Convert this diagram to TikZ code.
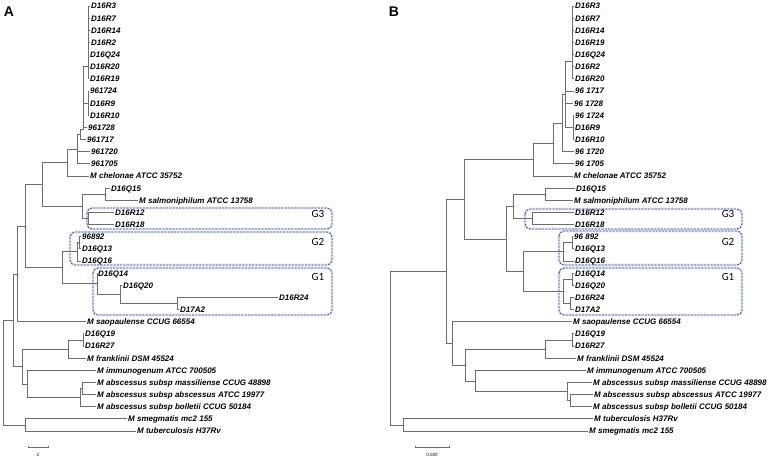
\documentclass[tikz,border=0pt]{standalone}
\usepackage{fontspec}
\setmainfont{Liberation Sans}
\newfontfamily\glab{Carlito}
\definecolor{treegray}{RGB}{110,110,110}
\definecolor{boxblue}{RGB}{70,80,130}
\definecolor{glowblue}{RGB}{222,230,244}
\begin{document}
\begin{tikzpicture}[x=1pt,y=-12.143pt,
  br/.style={draw=treegray, line width=0.8pt, line cap=rect},
  leaf/.style={anchor=west, inner sep=1pt, font=\bfseries\itshape\fontsize{8}{9}\selectfont, text height=5.8pt, text depth=0pt},
  gbox/.style={draw=boxblue, dash pattern=on 2pt off 1.3pt, line width=0.8pt, rounded corners=5pt},
  glow/.style={draw=glowblue, line width=2.6pt, rounded corners=5pt},
  glabel/.style={font=\glab\fontsize{11}{12}\selectfont, inner sep=0pt},
  panel/.style={font=\bfseries\fontsize{14}{16}\selectfont, inner sep=0pt},
  sbar/.style={font=\fontsize{4.5}{5}\selectfont, inner sep=0pt}]
\useasboundingbox (0,0.5059) rectangle (773,38.387);

% ---------- boxes (A) ----------
\draw[glow] (87,17.635) rectangle (332,19.36);
\draw[glow] (70,19.61) rectangle (332,22.33);
\draw[glow] (93,22.58) rectangle (332,26.45);
\draw[gbox] (87,17.635) rectangle (332,19.36);
\draw[gbox] (70,19.61) rectangle (332,22.33);
\draw[gbox] (93,22.58) rectangle (332,26.45);
% ---------- boxes (B) ----------
\draw[glow] (525,17.72) rectangle (742,19.36);
\draw[glow] (559,19.53) rectangle (742,22.33);
\draw[glow] (559,22.58) rectangle (742,26.45);
\draw[gbox] (525,17.72) rectangle (742,19.36);
\draw[gbox] (559,19.53) rectangle (742,22.33);
\draw[gbox] (559,22.58) rectangle (742,26.45);

\node[glabel] (gA3) at (318,18.13) {G3};
\node[glabel] (gA2) at (318,20.44) {G2};
\node[glabel] (gA1) at (318,23.32) {G1};
\node[glabel] (gB3) at (728,18.13) {G3};
\node[glabel] (gB2) at (728,20.44) {G2};
\node[glabel] (gB1) at (728,23.32) {G1};

\node[panel] (pA) at (9,1.49) {A};
\node[panel] (pB) at (394,1.49) {B};

% ---------- Tree A leaves ----------
\node[leaf] (lA1) at (90,1) {D16R3};
\node[leaf] (lA2) at (90,2) {D16R7};
\node[leaf] (lA3) at (90,3) {D16R14};
\node[leaf] (lA4) at (90,4) {D16R2};
\node[leaf] (lA5) at (89,5) {D16Q24};
\node[leaf] (lA6) at (89,6) {D16R20};
\node[leaf] (lA7) at (89,7) {D16R19};
\node[leaf] (lA8) at (89,8) {961724};
\node[leaf] (lA9) at (89,9) {D16R9};
\node[leaf] (lA10) at (89,10) {D16R10};
\node[leaf] (lA11) at (87,11) {961728};
\node[leaf] (lA12) at (86,12) {961717};
\node[leaf] (lA13) at (90,13) {961720};
\node[leaf] (lA14) at (90,14) {961705};
\node[leaf] (lA15) at (89,15) {M chelonae ATCC 35752};
\node[leaf] (lA16) at (110,16) {D16Q15};
\node[leaf] (lA17) at (138,17) {M salmoniphilum ATCC 13758};
\node[leaf] (lA18) at (114,18) {D16R12};
\node[leaf] (lA19) at (114,19) {D16R18};
\node[leaf] (lA20) at (81,20) {96892};
\node[leaf] (lA21) at (81,21) {D16Q13};
\node[leaf] (lA22) at (81,22) {D16Q16};
\node[leaf] (lA23) at (97,23) {D16Q14};
\node[leaf] (lA24) at (122,24) {D16Q20};
\node[leaf] (lA25) at (278,25) {D16R24};
\node[leaf] (lA26) at (179,26) {D17A2};
\node[leaf] (lA27) at (86,27) {M saopaulense CCUG 66554};
\node[leaf] (lA28) at (84,28) {D16Q19};
\node[leaf] (lA29) at (84,29) {D16R27};
\node[leaf] (lA30) at (86,30) {M franklinii DSM 45524};
\node[leaf] (lA31) at (96,31) {M immunogenum ATCC 700505};
\node[leaf] (lA32) at (96,32) {M abscessus subsp massiliense CCUG 48898};
\node[leaf] (lA33) at (96,33) {M abscessus subsp abscessus ATCC 19977};
\node[leaf] (lA34) at (96,34) {M abscessus subsp bolletii CCUG 50184};
\node[leaf] (lA35) at (127,35) {M smegmatis mc2 155};
\node[leaf] (lA36) at (136,36) {M tuberculosis H37Rv};

% ---------- Tree A internal nodes ----------
\coordinate (nA1) at (88,6);
\coordinate (nA3) at (88,9);
\coordinate (nA2) at (83,11.2);
\coordinate (nA5) at (80,11.6);
\coordinate (nA6) at (77,12.8);
\coordinate (nA7) at (67,13.9);
\coordinate (nA10) at (105,16.5);
\coordinate (nA11) at (88,18.5);
\coordinate (nA9) at (82,17.5);
\coordinate (nA8) at (42,15.7);
\coordinate (nA14a) at (79,20.5);
\coordinate (nA14) at (77,21.25);
\coordinate (nA17) at (177,25.5);
\coordinate (nA16) at (120,24.75);
\coordinate (nA15) at (97,23.875);
\coordinate (nA13) at (62,22.56);
\coordinate (nA12) at (25,19.13);
\coordinate (nA18) at (17,23.07);
\coordinate (nA21a) at (83,28.5);
\coordinate (nA21) at (68,29.25);
\coordinate (nA23a) at (82,32.5);
\coordinate (nA23) at (80,33.25);
\coordinate (nA22) at (27,32.125);
\coordinate (nA20) at (22,30.69);
\coordinate (nA19) at (13,26.88);
\coordinate (nA24) at (25,35.5);
\coordinate (nA0) at (3,31.19);

\foreach \p/\c in {nA1/lA1.west,nA1/lA2.west,nA1/lA3.west,nA1/lA4.west,nA1/lA5.west,nA1/lA6.west,nA1/lA7.west,
  nA3/lA8.west,nA3/lA9.west,nA3/lA10.west,
  nA2/nA1,nA2/nA3,nA2/lA11.west,
  nA5/nA2,nA5/lA12.west,
  nA6/nA5,nA6/lA13.west,nA6/lA14.west,
  nA7/nA6,nA7/lA15.west,
  nA10/lA16.west,nA10/lA17.west,
  nA11/lA18.west,nA11/lA19.west,
  nA9/nA10,nA9/nA11,
  nA8/nA7,nA8/nA9,
  nA14a/lA20.west,nA14a/lA21.west,
  nA14/nA14a,nA14/lA22.west,
  nA17/lA25.west,nA17/lA26.west,
  nA16/lA24.west,nA16/nA17,
  nA15/lA23.west,nA15/nA16,
  nA13/nA14,nA13/nA15,
  nA12/nA8,nA12/nA13,
  nA18/nA12,nA18/lA27.west,
  nA21a/lA28.west,nA21a/lA29.west,
  nA21/nA21a,nA21/lA30.west,
  nA23a/lA32.west,nA23a/lA33.west,
  nA23/nA23a,nA23/lA34.west,
  nA22/lA31.west,nA22/nA23,
  nA20/nA21,nA20/nA22,
  nA19/nA18,nA19/nA20,
  nA24/lA35.west,nA24/lA36.west,
  nA0/nA19,nA0/nA24}
  \draw[br] (\p) |- (\c);

% ---------- Tree B leaves ----------
\node[leaf] (lB1) at (574,1) {D16R3};
\node[leaf] (lB2) at (574,2) {D16R7};
\node[leaf] (lB3) at (574,3) {D16R14};
\node[leaf] (lB4) at (574,4) {D16R19};
\node[leaf] (lB5) at (574,5) {D16Q24};
\node[leaf] (lB6) at (574,6) {D16R2};
\node[leaf] (lB7) at (574,7) {D16R20};
\node[leaf] (lB8) at (574,8) {96 1717};
\node[leaf] (lB9) at (573,9) {96 1728};
\node[leaf] (lB10) at (574,10) {96 1724};
\node[leaf] (lB11) at (574,11) {D16R9};
\node[leaf] (lB12) at (574,12) {D16R10};
\node[leaf] (lB13) at (574,13) {96 1720};
\node[leaf] (lB14) at (574,14) {96 1705};
\node[leaf] (lB15) at (573,15) {M chelonae ATCC 35752};
\node[leaf] (lB16) at (575,16) {D16Q15};
\node[leaf] (lB17) at (573,17) {M salmoniphilum ATCC 13758};
\node[leaf] (lB18) at (574,18) {D16R12};
\node[leaf] (lB19) at (574,19) {D16R18};
\node[leaf] (lB20) at (573,20) {96 892};
\node[leaf] (lB21) at (574,21) {D16Q13};
\node[leaf] (lB22) at (574,22) {D16Q16};
\node[leaf] (lB23) at (574,23) {D16Q14};
\node[leaf] (lB24) at (574,24) {D16Q20};
\node[leaf] (lB25) at (574,25) {D16R24};
\node[leaf] (lB26) at (574,26) {D17A2};
\node[leaf] (lB27) at (572,27) {M saopaulense CCUG 66554};
\node[leaf] (lB28) at (574,28) {D16Q19};
\node[leaf] (lB29) at (574,29) {D16R27};
\node[leaf] (lB30) at (576,30) {M franklinii DSM 45524};
\node[leaf] (lB31) at (586,31) {M immunogenum ATCC 700505};
\node[leaf] (lB32) at (592,32) {M abscessus subsp massiliense CCUG 48898};
\node[leaf] (lB33) at (593,33) {M abscessus subsp abscessus ATCC 19977};
\node[leaf] (lB34) at (592,34) {M abscessus subsp bolletii CCUG 50184};
\node[leaf] (lB35) at (593,35) {M tuberculosis H37Rv};
\node[leaf] (lB36) at (588,36) {M smegmatis mc2 155};

% ---------- Tree B internal nodes ----------
\coordinate (nB1) at (572,5.6);
\coordinate (nB3) at (573,11);
\coordinate (nB2) at (565,8.3);
\coordinate (nB4) at (562,10.65);
\coordinate (nB5) at (553,12.3);
\coordinate (nB6) at (533,13.66);
\coordinate (nB9) at (545,16.5);
\coordinate (nB10) at (532,18.5);
\coordinate (nB8) at (513,17.5);
\coordinate (nB11a) at (572,20.5);
\coordinate (nB11) at (563,21.25);
\coordinate (nB12a) at (572,23.5);
\coordinate (nB12b) at (570,25.5);
\coordinate (nB12) at (563,24.5);
\coordinate (nB13) at (523,22.875);
\coordinate (nB7b) at (506,20.19);
\coordinate (nB7) at (464,16.92);
\coordinate (nB15a) at (572,28.5);
\coordinate (nB15) at (545,29.25);
\coordinate (nB16b) at (570,33.5);
\coordinate (nB16a) at (567,32.75);
\coordinate (nB16) at (475,31.875);
\coordinate (nB14b) at (465,30.56);
\coordinate (nB14) at (452,28.78);
\coordinate (nB0a) at (446,22.85);
\coordinate (nB17) at (403,35.5);
\coordinate (nB0) at (390,29.18);

\foreach \p/\c in {nB1/lB1.west,nB1/lB2.west,nB1/lB3.west,nB1/lB4.west,nB1/lB5.west,nB1/lB6.west,nB1/lB7.west,
  nB3/lB10.west,nB3/lB11.west,nB3/lB12.west,
  nB2/nB1,nB2/lB8.west,nB2/lB9.west,nB2/nB3,
  nB4/nB2,nB4/lB13.west,
  nB5/nB4,nB5/lB14.west,
  nB6/nB5,nB6/lB15.west,
  nB9/lB16.west,nB9/lB17.west,
  nB10/lB18.west,nB10/lB19.west,
  nB8/nB9,nB8/nB10,
  nB11a/lB20.west,nB11a/lB21.west,
  nB11/nB11a,nB11/lB22.west,
  nB12a/lB23.west,nB12a/lB24.west,
  nB12b/lB25.west,nB12b/lB26.west,
  nB12/nB12a,nB12/nB12b,
  nB13/nB11,nB13/nB12,
  nB7b/nB8,nB7b/nB13,
  nB7/nB6,nB7/nB7b,
  nB15a/lB28.west,nB15a/lB29.west,
  nB15/nB15a,nB15/lB30.west,
  nB16b/lB33.west,nB16b/lB34.west,
  nB16a/lB32.west,nB16a/nB16b,
  nB16/lB31.west,nB16/nB16a,
  nB14b/nB15,nB14b/nB16,
  nB14/lB27.west,nB14/nB14b,
  nB0a/nB7,nB0a/nB14,
  nB17/lB35.west,nB17/lB36.west,
  nB0/nB0a,nB0/nB17}
  \draw[br] (\p) |- (\c);

% ---------- scale bars ----------
\draw[br, line width=0.6pt, line cap=butt] (28,37.2) -- (28,37.44) (28,37.32) -- (48,37.32) (48,37.2) -- (48,37.44);
\node[sbar] (sA) at (38,37.98) {2};
\draw[br, line width=0.6pt, line cap=butt] (415,37.2) -- (415,37.44) (415,37.32) -- (449,37.32) (449,37.2) -- (449,37.44);
\node[sbar] (sB) at (432,37.98) {0.020};
\end{tikzpicture}
\end{document}
